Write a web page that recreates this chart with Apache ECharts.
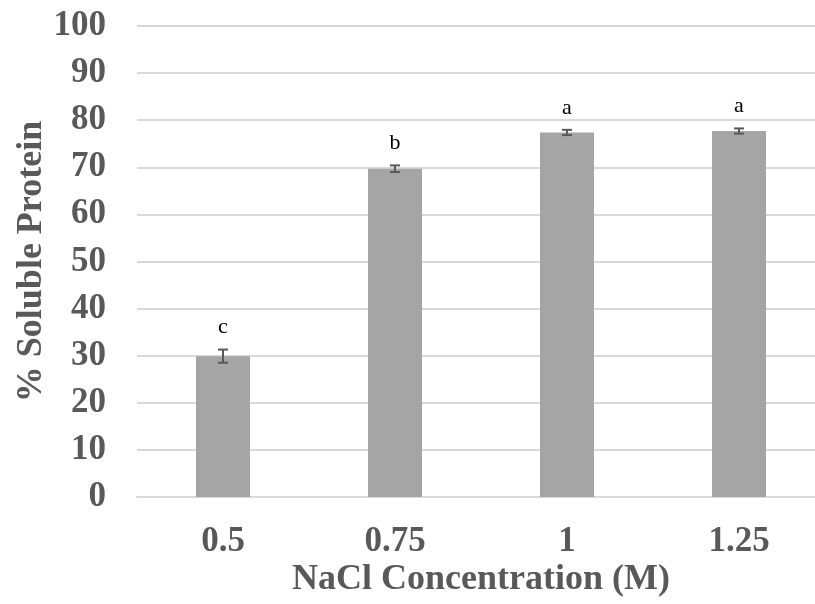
<!DOCTYPE html>
<html>
<head>
<meta charset="utf-8">
<script src="https://cdn.jsdelivr.net/npm/echarts@6/dist/echarts.min.js"></script>
<style>
  html, body { margin: 0; padding: 0; background: #fff; }
  #chart { width: 815px; height: 604px; }
</style>
</head>
<body>
<div id="chart"></div>
<script>
// NaCl concentration (M)
var categories = ['0.5', '0.75', '1', '1.25'];
// % soluble protein, means and error bar half-widths
var values = [29.9, 69.7, 77.4, 77.7];
var errors = [1.4, 0.7, 0.55, 0.55];
// significance letters
var letters = ['c', 'b', 'a', 'a'];

var font = '"Liberation Serif", "Times New Roman", serif';

var errData = categories.map(function (c, i) {
    return [i, values[i], errors[i], letters[i]];
});

var option = {
    animation: false,
    backgroundColor: '#fff',
    grid: { left: 137, top: 26, width: 688, height: 471, containLabel: false, outerBoundsMode: 'none' },
    xAxis: {
        type: 'category',
        data: categories,
        name: 'NaCl Concentration (M)',
        nameLocation: 'middle',
        nameGap: 65,
        nameMoveOverlap: false,
        nameTextStyle: { fontFamily: font, fontWeight: 'bold', fontSize: 36, color: '#595959' },
        axisLine: { show: true, lineStyle: { color: '#d9d9d9', width: 2 } },
        axisTick: { show: false },
        axisLabel: { fontFamily: font, fontWeight: 'bold', fontSize: 35, color: '#595959', margin: 27 }
    },
    yAxis: {
        type: 'value',
        min: 0,
        max: 100,
        interval: 10,
        name: '% Soluble Protein',
        nameLocation: 'middle',
        nameGap: 87,
        nameMoveOverlap: false,
        nameTextStyle: { fontFamily: font, fontWeight: 'bold', fontSize: 36, color: '#595959' },
        axisLine: { show: false },
        axisTick: { show: false },
        splitLine: { lineStyle: { color: '#d9d9d9', width: 2 } },
        axisLabel: { fontFamily: font, fontWeight: 'bold', fontSize: 35, color: '#595959', margin: 31 }
    },
    series: [
        {
            type: 'bar',
            data: values,
            barWidth: 54,
            itemStyle: { color: '#a5a5a5' }
        },
        {
            type: 'custom',
            data: errData,
            z: 10,
            renderItem: function (params, api) {
                var x = api.value(0);
                var v = api.value(1);
                var e = api.value(2);
                var hi = api.coord([x, v + e]);
                var lo = api.coord([x, v - e]);
                var w = 5;
                var style = { stroke: '#595959', lineWidth: 2 };
                return {
                    type: 'group',
                    children: [
                        { type: 'line', shape: { x1: hi[0], y1: hi[1], x2: lo[0], y2: lo[1] }, style: style },
                        { type: 'line', shape: { x1: hi[0] - w, y1: hi[1], x2: hi[0] + w, y2: hi[1] }, style: style },
                        { type: 'line', shape: { x1: lo[0] - w, y1: lo[1], x2: lo[0] + w, y2: lo[1] }, style: style },
                        {
                            type: 'text',
                            x: hi[0],
                            y: hi[1] - 11,
                            style: {
                                text: api.value(3),
                                fontFamily: font,
                                fontSize: 22,
                                fill: '#000',
                                align: 'center',
                                verticalAlign: 'bottom'
                            }
                        }
                    ]
                };
            }
        }
    ]
};

var myChart = echarts.init(document.getElementById('chart'));
myChart.setOption(option);
</script>
</body>
</html>
